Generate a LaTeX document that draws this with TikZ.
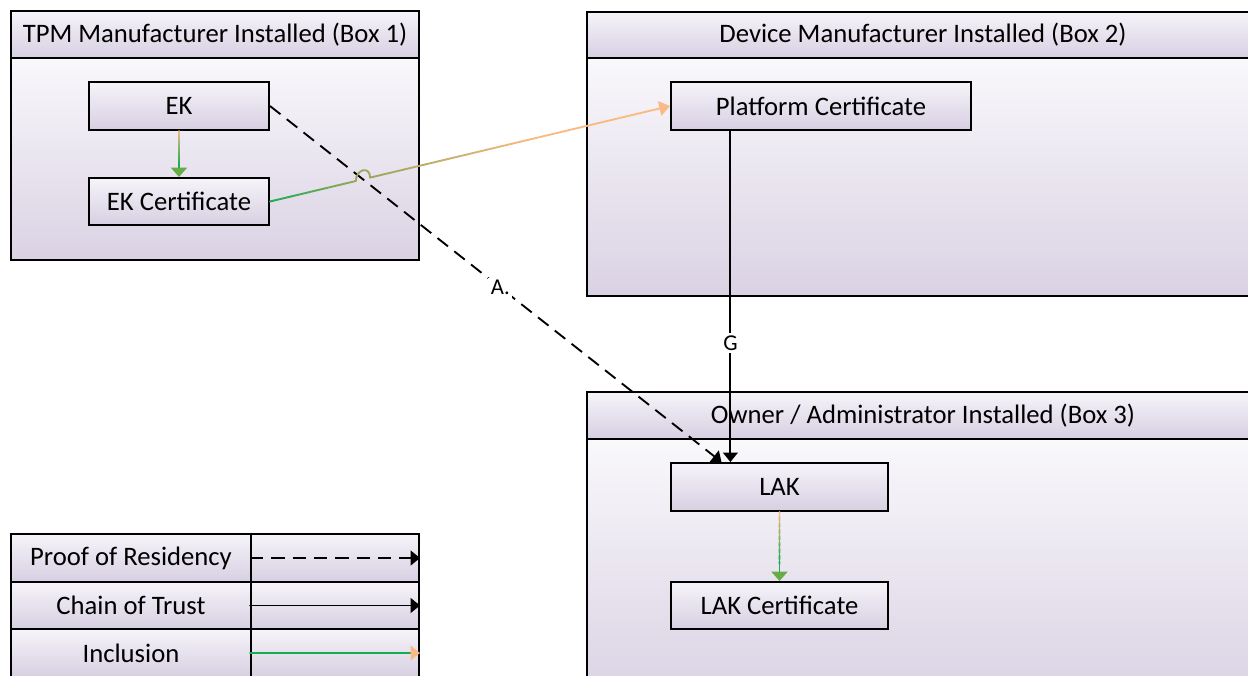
\documentclass[tikz,border=0pt]{standalone}
\usepackage{fontspec}
\setmainfont{Carlito}
\usetikzlibrary{arrows.meta,calc,intersections,fit}

\definecolor{shadeTop}{RGB}{246,244,249}
\definecolor{shadeBot}{RGB}{215,207,226}
\definecolor{bodyTop}{RGB}{249,248,251}
\definecolor{bodyBot}{RGB}{218,210,228}
\definecolor{incGreen}{RGB}{24,172,82}
\definecolor{incOrange}{RGB}{250,186,132}
\definecolor{incOlive}{RGB}{152,168,90}
\definecolor{headGreen}{RGB}{104,172,72}

% straight line whose colour runs from #3 at (#1) to #4 at (#2)
\newcommand\fadeline[4]{%
  \foreach \k in {0,...,23}{%
    \pgfmathsetmacro\ta{\k/24}%
    \pgfmathsetmacro\tb{(\k+1)/24}%
    \pgfmathsetmacro\mixpct{100*(\k+0.5)/24}%
    \draw[link, color={#4!\mixpct!#3}] ($(#1)!\ta!(#2)$) -- ($(#1)!\tb!(#2)$);
  }}

\tikzset{
  txt/.style={font=\fontsize{20}{23}\selectfont},
  item/.style={draw, line width=1.5pt, top color=shadeTop, bottom color=shadeBot,
    inner sep=0pt},
  panel/.style={draw, line width=1.5pt, top color=bodyTop, bottom color=bodyBot,
    inner sep=0pt},
  caption/.style={label={[txt]center:#1}},
  link/.style={line width=1.4pt, line cap=round},
  tip/.style={-{Triangle[length=7pt,width=11pt]}},
  dashline/.style={link, line cap=butt, dash pattern=on 10pt off 6pt},
  lbl/.style={fill=white, inner sep=2pt, font=\fontsize{17}{19}\selectfont},
}

\begin{document}
\begin{tikzpicture}[x=0.75pt,y=-0.75pt]
\useasboundingbox (0,0) rectangle (1248,675);
\clip (0,0) rectangle (1248,675);

% Box 1
\node[panel, fit={(11,58)(419,260)}] (b1) {};
\node[item, fit={(11,11)(419,58)}, caption={TPM Manufacturer Installed (Box 1)}] (h1) {};
\node[item, fit={(89,82)(269,130)}, caption={EK}] (ek) {};
\node[item, fit={(89,178)(269,225)}, caption={EK Certificate}] (ekc) {};

% Box 2
\node[panel, fit={(587,58)(1259,296)}] (b2) {};
\node[item, fit={(587,12)(1259,58)}, caption={Device Manufacturer Installed (Box 2)}] (h2) {};
\node[item, fit={(671,82)(971,130)}, caption={Platform Certificate}] (plat) {};

% Box 3
\node[panel, fit={(587,439)(1259,700)}] (b3) {};
\node[item, fit={(587,392)(1259,439)}, caption={Owner / Administrator Installed (Box 3)}] (h3) {};
\node[item, fit={(671,463)(888,511)}, caption={LAK}] (lak) {};
\node[item, fit={(671,582)(888,629)}, caption={LAK Certificate}] (lakc) {};

% Legend
\node[item, fit={(11,534)(251,582)}, caption={Proof of Residency}] (l1) {};
\node[item, fit={(251,534)(419,582)}] (l1a) {};
\node[item, fit={(11,582)(251,629)}, caption={Chain of Trust}] (l2) {};
\node[item, fit={(251,582)(419,629)}] (l2a) {};
\node[item, fit={(11,629)(251,677)}, caption={Inclusion}] (l3) {};
\node[item, fit={(251,629)(419,677)}] (l3a) {};

\draw[dashline, tip] (l1a.west) -- (l1a.east);
\draw[link, tip] (l2a.west) -- (l2a.east);
\draw[link, incGreen, -{Triangle[length=7pt,width=11pt,color=incOrange,fill=incOrange]}]
  (l3a.west) -- (l3a.east);

% Inclusion arrows inside the boxes
\coordinate (ekm) at ($(ek.south)!0.75!(ekc.north)$);
\fadeline{ek.south}{ekm}{incOrange}{incGreen}
\draw[link, incGreen, -{Triangle[length=7pt,width=12pt,color=headGreen,fill=headGreen]}]
  (ekm) -- (ekc.north);
\coordinate (lakm) at ($(lak.south)!0.75!(lakc.north)$);
\fadeline{lak.south}{lakm}{incOrange}{incGreen}
\draw[link, incGreen, -{Triangle[length=7pt,width=12pt,color=headGreen,fill=headGreen]}]
  (lakm) -- (lakc.north);

% Chain of trust G
\coordinate (gTop) at ($(plat.south west)!0.2!(plat.south east)$);
\draw[link, tip] (gTop) -- node[pos=0.64, lbl] {G} (gTop |- lak.north);

% Proof of residency A
\coordinate (lakT) at ($(lak.north west)!0.235!(lak.north east)$);
\draw[dashline, tip, name path=dash] (ek.east) -- node[pos=0.51, lbl] {A.} (lakT);

% Inclusion EK Certificate -> Platform Certificate, jumping over the dashed line
\path[name path=incl] (ekc.east) -- (plat.west);
\path[name intersections={of=dash and incl, by=X}];
\coordinate (J1) at ($(X)!5.5pt!(ekc.east)$);
\coordinate (J2) at ($(X)!5.5pt!(plat.west)$);
\coordinate (M) at ($(J2)!0.55!(plat.west)$);
\fadeline{ekc.east}{J1}{incGreen}{incOlive}
\draw[link, incOlive] (J1) .. controls ($(J1)+(0,-12)$) and ($(J2)+(0,-12)$) .. (J2);
\fadeline{J2}{M}{incOlive}{incOrange}
\draw[link, incOrange, -{Triangle[length=8pt,width=11pt]}] (M) -- (plat.west);
\end{tikzpicture}
\end{document}
